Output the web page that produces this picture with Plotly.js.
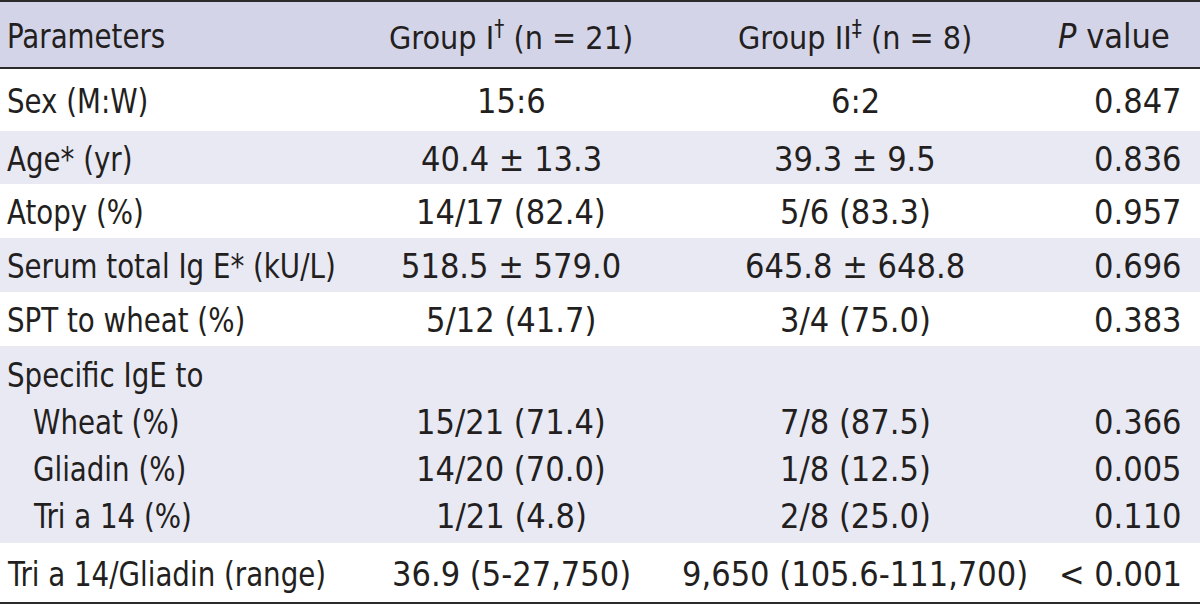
<!DOCTYPE html>
<html><head><meta charset="utf-8">
<script src="https://cdn.plot.ly/plotly-3.0.1.min.js"></script>
<style>html,body{margin:0;padding:0;background:#fff}#chart{width:1200px;height:605px}</style>
</head><body><div id="chart"></div>
<script>
// ---- data ----
const headers = ["Parameters", "Group I<sup>†</sup> (n = 21)", "Group II<sup>‡</sup> (n = 8)", "<i>P</i> value"];
const parameters = ["Sex (M:W)", "Age* (yr)", "Atopy (%)", "Serum total Ig E* (kU/L)", "SPT to wheat (%)",
  "Specific IgE to", "Wheat (%)", "Gliadin (%)", "Tri a 14 (%)", "Tri a 14/Gliadin (range)"];
const subItem = [false, false, false, false, false, false, true, true, true, false];
const group1 = ["15:6", "40.4 ± 13.3", "14/17 (82.4)", "518.5 ± 579.0", "5/12 (41.7)",
  "", "15/21 (71.4)", "14/20 (70.0)", "1/21 (4.8)", "36.9 (5-27,750)"];
const group2 = ["6:2", "39.3 ± 9.5", "5/6 (83.3)", "645.8 ± 648.8", "3/4 (75.0)",
  "", "7/8 (87.5)", "1/8 (12.5)", "2/8 (25.0)", "9,650 (105.6-111,700)"];
const pvalues = ["0.847", "0.836", "0.957", "0.696", "0.383",
  "", "0.366", "0.005", "0.110", "< 0.001"];
// which display block each line belongs to
const block = [0, 1, 2, 3, 4, 5, 5, 5, 5, 6];

// ---- layout geometry ----
const FONT = "'DejaVu Sans Condensed', 'Liberation Sans', Arial, sans-serif";
const FS = 34;
const headSize = [34, 32, 32, 34];
const labelSqueeze = 0.905;
const TEXT = "#231f20";
const headerTop = 1, headerBottom = 68;
const blockHeights = [63, 53, 54, 54, 54, 197, 60];
const blockFill = ["#ffffff", "#e9e9f4", "#ffffff", "#e9e9f4", "#ffffff", "#e9e9f4", "#ffffff"];
const lineGap = 47;
const colX = [5, 511, 855, 1184];
const colAnchor = ["left", "center", "center", "right"];
const indent = 26;

const edges = [headerBottom];
blockHeights.forEach(h => edges.push(edges[edges.length - 1] + h));

const shapes = [];
shapes.push({type: "rect", xref: "x", yref: "y", x0: 0, x1: 1200, y0: headerTop, y1: headerBottom,
  fillcolor: "#d4d4e8", line: {width: 0}, layer: "below"});
blockHeights.forEach((h, i) => {
  shapes.push({type: "rect", xref: "x", yref: "y", x0: 0, x1: 1200, y0: edges[i], y1: edges[i + 1],
    fillcolor: blockFill[i], line: {width: 0}, layer: "below"});
});
[headerTop, headerBottom, edges[edges.length - 1]].forEach(y => {
  shapes.push({type: "line", xref: "x", yref: "y", x0: 0, x1: 1200, y0: y, y1: y,
    line: {color: "#2b2b2b", width: 2}});
});

const annotations = [];
const squeezeIdx = [];
function addText(text, col, y, xoff, size) {
  if (col === 0) squeezeIdx.push(annotations.length);
  annotations.push({text: text, x: colX[col] + (xoff || 0), y: y, xref: "x", yref: "y",
    xanchor: colAnchor[col], align: colAnchor[col], yanchor: "middle", showarrow: false,
    font: {family: FONT, size: size, color: TEXT}});
}
headers.forEach((h, c) => {
  const xo = c === 3 ? -12 : 0;
  addText(h, c, (headerTop + headerBottom) / 2 + 1, xo, headSize[c]);
});
const cols = [parameters, group1, group2, pvalues];
const counts = {};
block.forEach(b => counts[b] = (counts[b] || 0) + 1);
const seen = {};
parameters.forEach((p, i) => {
  const b = block[i];
  const k = seen[b] || 0; seen[b] = k + 1;
  const center = (edges[b] + edges[b + 1]) / 2;
  const y = center + (k - (counts[b] - 1) / 2) * lineGap + 1;
  cols.forEach((arr, c) => {
    if (arr[i] === "") return;
    addText(arr[i], c, y, c === 0 && subItem[i] ? indent : 0, FS);
  });
});

const layout = {
  width: 1200, height: 605,
  margin: {l: 0, r: 0, t: 0, b: 0},
  paper_bgcolor: "#ffffff", plot_bgcolor: "#ffffff",
  xaxis: {range: [0, 1200], visible: false, fixedrange: true},
  yaxis: {range: [605, 0], visible: false, fixedrange: true},
  showlegend: false,
  shapes: shapes,
  annotations: annotations
};
Plotly.newPlot("chart", [], layout, {staticPlot: true, displayModeBar: false}).then(gd => {
  // the reference uses a condensed face: narrow the label column glyphs
  const groups = gd.querySelectorAll("g.annotation");
  squeezeIdx.forEach(i => {
    const g = groups[i];
    if (!g) return;
    const t = g.querySelector("text.annotation-text");
    if (!t) return;
    const w = t.getComputedTextLength();
    t.setAttribute("textLength", (w * labelSqueeze).toFixed(1));
    t.setAttribute("lengthAdjust", "spacingAndGlyphs");
  });
});
</script></body></html>
